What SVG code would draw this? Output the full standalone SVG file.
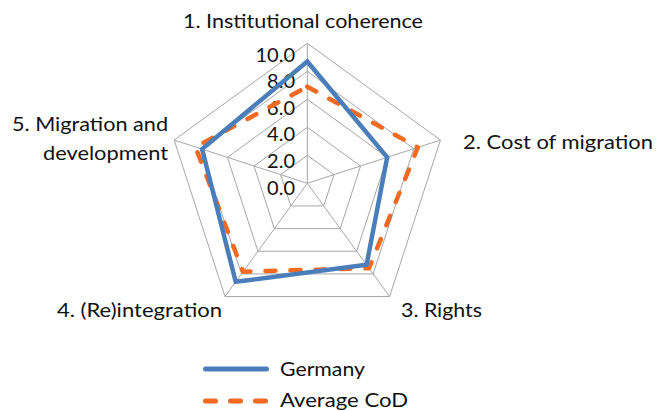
<svg xmlns="http://www.w3.org/2000/svg" width="657" height="411" viewBox="0 0 657 411">
<style>
  text { font-family: "Lato", "Open Sans", "Liberation Sans", sans-serif; font-size: 20px; fill: #111111; }
  .grid { fill: none; stroke: #a6a6a6; stroke-width: 1; }
  .tick { text-anchor: end; }
  .ger { fill: none; stroke: #4a7ebb; stroke-width: 4.5; stroke-linejoin: miter; }
  .avg { fill: none; stroke: #f26a21; stroke-width: 4.5; stroke-dasharray: 10 15; stroke-linecap: round; stroke-linejoin: round; }
</style>
<rect width="657" height="411" fill="#ffffff"/>
<g id="grid" transform="translate(307.3,183.3)">
  <polygon class="grid" points="0,-28 26.63,-8.65 16.46,22.65 -16.46,22.65 -26.63,-8.65"/>
  <polygon class="grid" points="0,-56 53.26,-17.30 32.92,45.30 -32.92,45.30 -53.26,-17.30"/>
  <polygon class="grid" points="0,-84 79.89,-25.96 49.38,67.96 -49.38,67.96 -79.89,-25.96"/>
  <polygon class="grid" points="0,-112 106.52,-34.61 65.83,90.61 -65.83,90.61 -106.52,-34.61"/>
  <polygon class="grid" points="0,-140 133.15,-43.26 82.29,113.26 -82.29,113.26 -133.15,-43.26"/>
  <path class="grid" d="M0,0 L0,-140 M0,0 L133.15,-43.26 M0,0 L82.29,113.26 M0,0 L-82.29,113.26 M0,0 L-133.15,-43.26"/>
</g>
<g id="ticks">
  <text class="tick" x="295" y="61.5">10.0</text>
  <text class="tick" x="295" y="88">8.0</text>
  <text class="tick" x="295" y="114.5">6.0</text>
  <text class="tick" x="295" y="141">4.0</text>
  <text class="tick" x="295" y="167.5">2.0</text>
  <text class="tick" x="295" y="194.5">0.0</text>
</g>
<g id="connectors" transform="translate(307.3,183.3)">
  <polygon id="series-average" class="avg" points="0,-96.6 110.52,-35.91 61.72,84.95 -64.19,88.34 -111.85,-36.34"/>
  <polygon id="series-germany" class="ger" points="0,-121.8 79.89,-25.96 59.25,81.55 -71.59,98.54 -105.19,-34.18"/>
</g>
<g id="axis1"><text x="183" y="27.5" textLength="240" lengthAdjust="spacingAndGlyphs">1. Institutional coherence</text></g>
<g id="axis2"><text x="463" y="148.5" textLength="190" lengthAdjust="spacingAndGlyphs">2. Cost of migration</text></g>
<g id="axis3"><text x="401" y="316.5" textLength="81" lengthAdjust="spacingAndGlyphs">3. Rights</text></g>
<g id="axis4"><text x="57" y="316.5" textLength="165" lengthAdjust="spacingAndGlyphs">4. (Re)integration</text></g>
<g id="axis5">
  <text x="12" y="131" textLength="156" lengthAdjust="spacingAndGlyphs">5. Migration and</text>
  <text x="43" y="160" textLength="125" lengthAdjust="spacingAndGlyphs">development</text>
</g>
<g id="legend">
  <line x1="205.5" y1="369" x2="266.5" y2="369" stroke="#4a7ebb" stroke-width="5" stroke-linecap="round"/>
  <text x="280" y="376" textLength="85" lengthAdjust="spacingAndGlyphs">Germany</text>
  <line x1="205.5" y1="401" x2="266.5" y2="401" stroke="#f26a21" stroke-width="5" stroke-linecap="round" stroke-dasharray="10 15"/>
  <text x="280" y="407" textLength="128" lengthAdjust="spacingAndGlyphs">Average CoD</text>
</g>
</svg>
